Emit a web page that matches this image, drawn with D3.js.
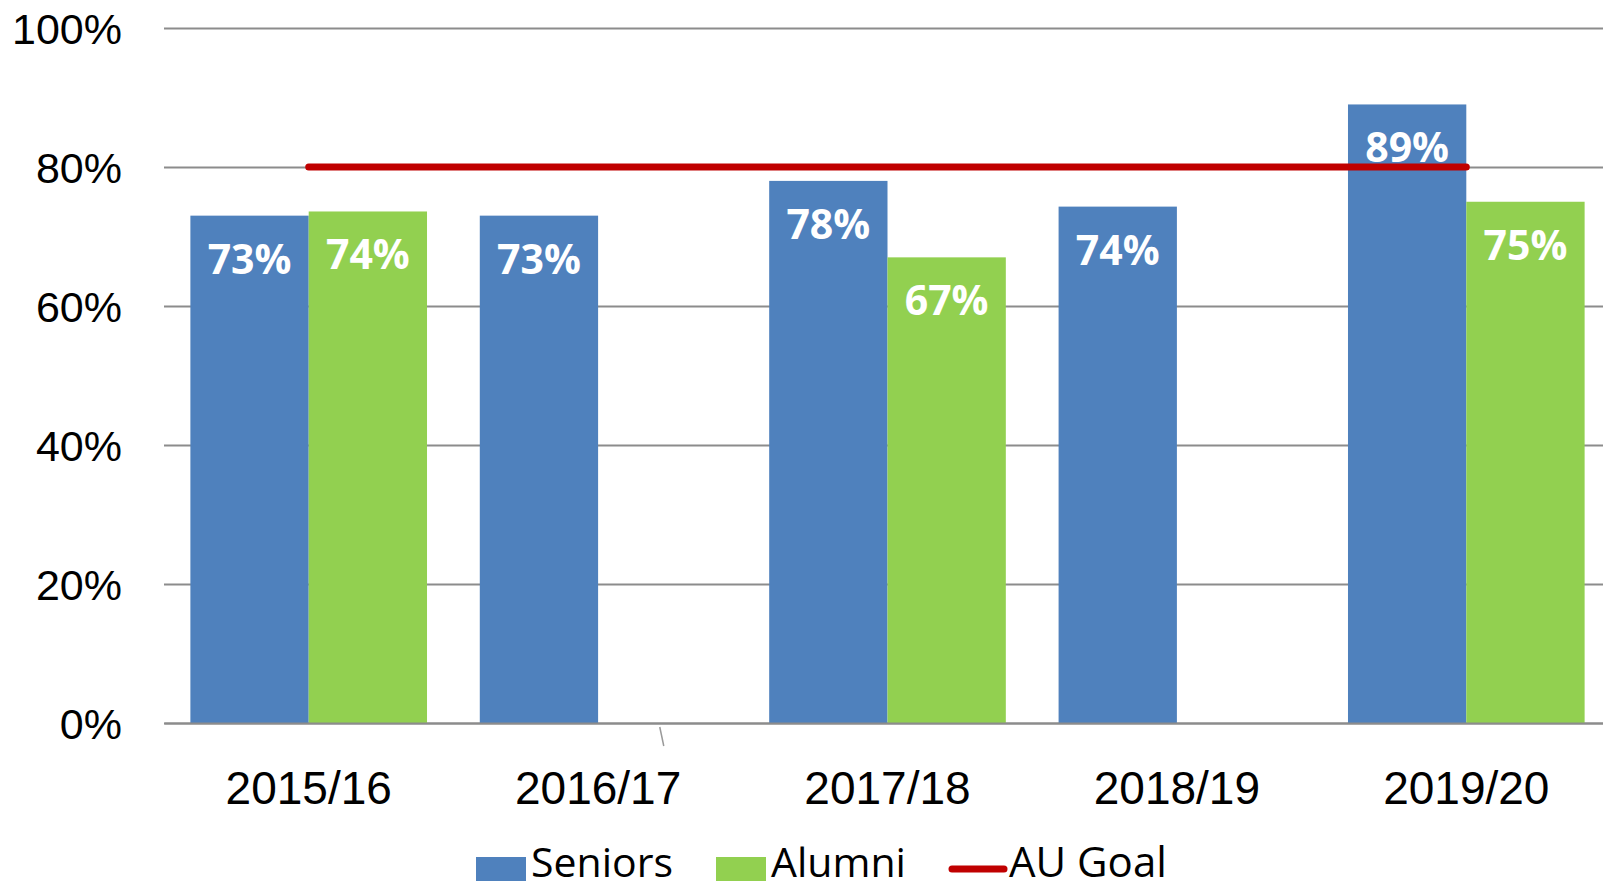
<!DOCTYPE html>
<html><head><meta charset="utf-8">
<script src="https://cdn.jsdelivr.net/npm/d3@7"></script>
<style>
html,body{margin:0;padding:0;background:#fff;overflow:hidden}
svg{display:block;font-family:"Open Sans",sans-serif}
</style></head>
<body><svg id="c" width="1603" height="889"></svg>
<script>
const categories = ["2015/16","2016/17","2017/18","2018/19","2019/20"];
const series = ["Seniors","Alumni"];
const seniors = [0.73, 0.73, 0.78, 0.743, 0.89];
const alumni = [0.736, null, 0.67, null, 0.75];
const goal = [0.80, 0.80, 0.80, 0.80, 0.80];
const yTicks = [0, 0.2, 0.4, 0.6, 0.8, 1.0];
const colors = {Seniors:"#4f81bd", Alumni:"#92d050", Goal:"#c00000"};

const svg = d3.select("#c");
const x0 = d3.scaleBand().domain(categories).range([164, 1611]).padding(0);
const x1 = d3.scaleBand().domain(series).range([0, x0.bandwidth()]).paddingInner(0).paddingOuter(0.223);
const y = d3.scaleLinear().domain([0, 1]).range([723, 28]);
const fmt = d3.format(".0%");

// gridlines
const yAxis = d3.axisLeft(y).tickValues(yTicks).tickFormat(fmt).tickSize(-(1611-164)).tickPadding(42);
const gy = svg.append("g").attr("transform","translate(164,0)").call(yAxis);
gy.select(".domain").remove();
gy.selectAll(".tick line").attr("stroke","#8c8c8c").attr("stroke-width",2);
gy.selectAll(".tick text").attr("fill","#000").style("font-size","43px").attr("dy","0.36em");

// bars
const data = [];
categories.forEach((c,i)=>{
  data.push({cat:c, s:"Seniors", v:seniors[i]});
  if (alumni[i] != null) data.push({cat:c, s:"Alumni", v:alumni[i]});
});
svg.append("g").selectAll("rect").data(data).join("rect")
  .attr("x", d=>x0(d.cat)+x1(d.s))
  .attr("width", x1.bandwidth())
  .attr("y", d=>y(d.v))
  .attr("height", d=>y(0)-y(d.v))
  .attr("fill", d=>colors[d.s]);

// x axis
const xAxis = d3.axisBottom(x0).tickSize(0).tickPadding(48);
const gx = svg.append("g").attr("transform","translate(0,723)").call(xAxis);
gx.select(".domain").attr("stroke","#8c8c8c").attr("stroke-width",2);
gx.selectAll(".tick text").attr("fill","#000").style("font-size","46px");
// small stray tick seen in source
const sx = x0("2016/17") + x0.bandwidth()*0.72;
svg.append("line").attr("x1",sx-2).attr("y1",y(0)+4).attr("x2",sx+2).attr("y2",y(0)+23)
  .attr("stroke","#9a9a9a").attr("stroke-width",1.5);

// goal line
const line = d3.line().x((d,i)=>x0(categories[i])+x0.bandwidth()/2).y(d=>y(d));
svg.append("path").datum(goal).attr("d", line).attr("fill","none")
  .attr("stroke", colors.Goal).attr("stroke-width",7).attr("stroke-linecap","round");

// labels
svg.append("g").selectAll("text").data(data).join("text")
  .attr("x", d=>x0(d.cat)+x1(d.s)+x1.bandwidth()/2)
  .attr("y", d=>y(d.v)+58)
  .attr("text-anchor","middle")
  .attr("fill","#fff").style("font-weight","700").style("font-size","41px")
  .text(d=>fmt(d.v));

// legend
const leg = svg.append("g");
const items = [
  {name:"Seniors", type:"rect", color:colors.Seniors, x:476},
  {name:"Alumni", type:"rect", color:colors.Alumni, x:716},
  {name:"AU Goal", type:"line", color:colors.Goal, x:949}
];
const base = 877;
items.forEach(it=>{
  if (it.type==="rect") {
    leg.append("rect").attr("x",it.x).attr("y",857).attr("width",50).attr("height",24).attr("fill",it.color);
    leg.append("text").attr("x",it.x+55).attr("y",base).style("font-size","41px").text(it.name);
  } else {
    leg.append("line").attr("x1",it.x+3).attr("x2",it.x+55).attr("y1",869).attr("y2",869)
      .attr("stroke",it.color).attr("stroke-width",7).attr("stroke-linecap","round");
    leg.append("text").attr("x",it.x+60).attr("y",base).style("font-size","42px").text(it.name);
  }
});
</script></body></html>
